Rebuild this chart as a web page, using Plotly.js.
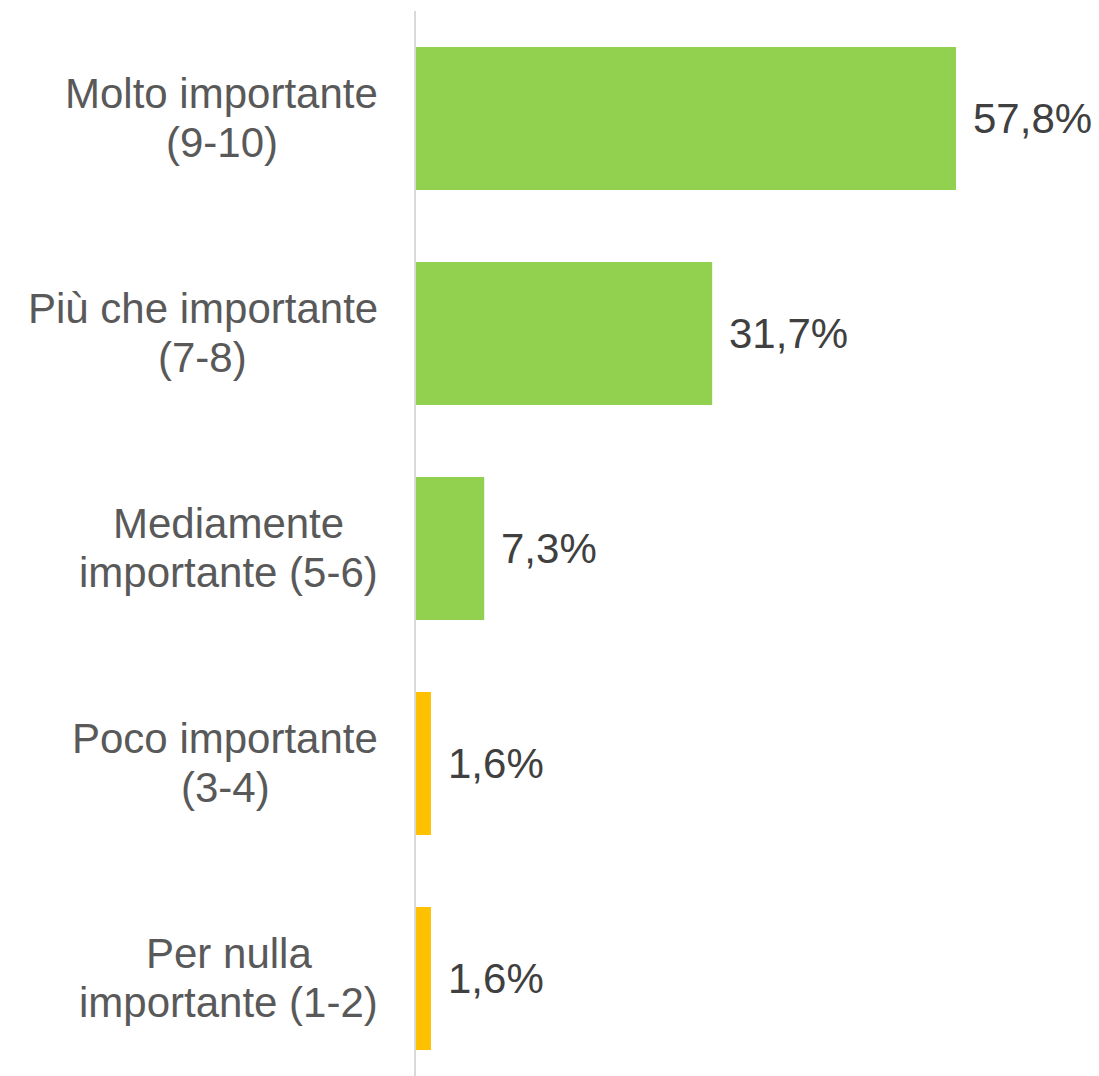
<!DOCTYPE html>
<html>
<head>
<meta charset="utf-8">
<script src="https://cdn.plot.ly/plotly-3.0.1.min.js"></script>
<style>
html,body{margin:0;padding:0;background:#fff;}
#chart{width:1099px;height:1076px;}
</style>
</head>
<body>
<div id="chart"></div>
<script>
// Data
const categories = [
  "Molto importante (9-10)",
  "Più che importante (7-8)",
  "Mediamente importante (5-6)",
  "Poco importante (3-4)",
  "Per nulla importante (1-2)"
];
const labelLines = [
  ["Molto importante", "(9-10)"],
  ["Più che importante", "(7-8)"],
  ["Mediamente", "importante (5-6)"],
  ["Poco importante", "(3-4)"],
  ["Per nulla", "importante (1-2)"]
];
const values = [57.8, 31.7, 7.3, 1.6, 1.6];
const valueLabels = ["57,8%", "31,7%", "7,3%", "1,6%", "1,6%"];
const barColors = ["#92D050", "#92D050", "#92D050", "#FFC000", "#FFC000"];

const FONT = "'Liberation Sans', Arial, sans-serif";
const FS = 42;

// measure text widths for centred multi-line category labels
const cv = document.createElement('canvas');
const ctx = cv.getContext('2d');
ctx.font = FS + "px 'Liberation Sans'";

const annotations = [];
categories.forEach((c, i) => {
  const lines = labelLines[i];
  const maxW = Math.max(...lines.map(l => ctx.measureText(l).width));
  const cx = -38 - maxW / 2;
  lines.forEach((l, j) => {
    annotations.push({
      xref: 'paper', x: 0, yref: 'y', y: c,
      text: l, showarrow: false,
      xanchor: 'center', yanchor: 'middle',
      xshift: cx, yshift: j === 0 ? 25.5 : -23.5,
      font: {family: FONT, size: FS, color: '#595959'}
    });
  });
  annotations.push({
    xref: 'x', x: values[i], yref: 'y', y: c,
    text: valueLabels[i], showarrow: false,
    xanchor: 'left', yanchor: 'middle',
    xshift: 15, yshift: 0,
    font: {family: FONT, size: FS, color: '#404040'}
  });
});

const trace = {
  type: 'bar',
  orientation: 'h',
  y: categories,
  x: values,
  marker: {color: barColors, line: {width: 0}},
  hoverinfo: 'none'
};

const layout = {
  width: 1099, height: 1076,
  margin: {l: 416, r: 0, t: 11, b: 0, pad: 0},
  paper_bgcolor: '#ffffff', plot_bgcolor: '#ffffff',
  showlegend: false,
  bargap: 0.335,
  xaxis: {range: [0, 73.1], visible: false, fixedrange: true},
  yaxis: {
    type: 'category',
    range: [4.453, -0.5],
    showticklabels: false, ticks: '',
    showgrid: false, zeroline: false,
    showline: true, linecolor: '#D9D9D9', linewidth: 2,
    fixedrange: true
  },
  annotations: annotations,
  font: {family: FONT}
};

Plotly.newPlot('chart', [trace], layout, {displayModeBar: false, staticPlot: true});
</script>
</body>
</html>
